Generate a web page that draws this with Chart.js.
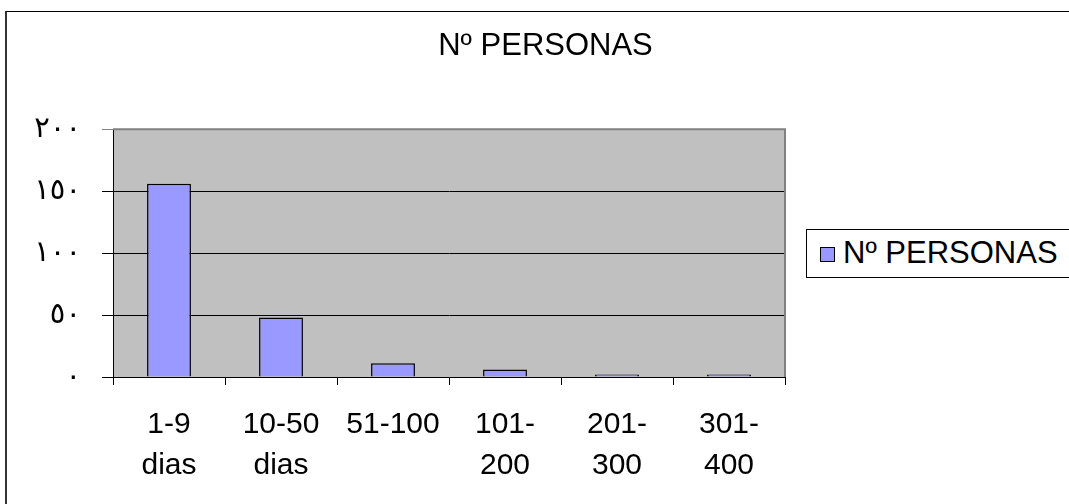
<!DOCTYPE html>
<html lang="es">
<head>
  <meta charset="UTF-8" />
  <title>Nº PERSONAS</title>
  <script src="https://cdn.jsdelivr.net/npm/chart.js"></script>
  <style>
    html, body {
      margin: 0;
      padding: 0;
      background: #fff;
      overflow: hidden;
      font-family: "Liberation Sans", Arial, sans-serif;
    }
    #wrap {
      position: relative;
      width: 1069px;
      height: 504px;
    }
    #frame {
      position: absolute;
      left: 5px;
      top: 11px;
      width: 2000px;
      height: 1000px;
      border-left: 2px solid #333;
      border-top: 1px solid #000;
      pointer-events: none;
    }
    #legend {
      position: absolute;
      left: 806px;
      top: 229px;
      width: 400px;
      height: 47px;
      border: 1px solid #000;
      background: #fff;
      font-size: 31px;
      color: #000;
    }
    #legend .box {
      position: absolute;
      left: 13px;
      top: 17px;
      width: 13px;
      height: 13px;
      border: 1px solid #000;
    }
    #legend .txt {
      position: absolute;
      left: 36px;
      top: 5px;
      line-height: 36px;
    }
  </style>
</head>
<body>
  <div id="wrap">
    <canvas id="chart" width="1069" height="504"></canvas>
    <div id="frame"></div>
    <div id="legend"><span class="box" id="legendBox"></span><span class="txt" id="legendText"></span></div>
  </div>

  <script>
    // datos
    const categorias = [['1-9', 'dias'], ['10-50', 'dias'], ['51-100'], ['101-', '200'], ['201-', '300'], ['301-', '400']];
    const personas = [156, 48, 11, 6, 2, 2];
    const yTickLabels = ['٠', '٥٠', '١٠٠', '١٥٠', '٢٠٠'];
    const serieNombre = 'Nº PERSONAS';

    const barColor = '#9999FF';

    // fondo gris del area de trazado y borde gris arriba/derecha
    const plotArea = {
      id: 'plotArea',
      beforeDraw(chart) {
        const { ctx, chartArea: a } = chart;
        ctx.save();
        ctx.fillStyle = '#C0C0C0';
        ctx.fillRect(a.left, a.top, a.right - a.left, a.bottom - a.top);
        ctx.restore();
      },
      afterDatasetsDraw(chart) {
        const { ctx, chartArea: a } = chart;
        ctx.save();
        ctx.strokeStyle = '#808080';
        ctx.lineWidth = 2;
        ctx.beginPath();
        ctx.moveTo(a.left, a.top);
        ctx.lineTo(a.right, a.top);
        ctx.lineTo(a.right, a.bottom);
        ctx.stroke();
        ctx.restore();
      }
    };

    const chart = new Chart(document.getElementById('chart'), {
      type: 'bar',
      data: {
        labels: categorias,
        datasets: [{
          label: serieNombre,
          data: personas,
          backgroundColor: barColor,
          borderColor: '#000',
          borderWidth: 1.5,
          barPercentage: 0.8,
          categoryPercentage: 0.49
        }]
      },
      plugins: [plotArea],
      options: {
        responsive: false,
        animation: false,
        layout: { padding: { left: 22, right: 0, top: 0, bottom: 0 } },
        plugins: {
          legend: { display: false },
          tooltip: { enabled: false },
          title: {
            display: true,
            text: serieNombre,
            color: '#000',
            font: { family: 'Liberation Sans', size: 31, weight: 'normal' },
            padding: { top: 28, bottom: 64 }
          }
        },
        scales: {
          x: {
            grid: {
              drawOnChartArea: false,
              drawTicks: true,
              tickLength: 8,
              color: '#000'
            },
            border: { display: true, color: '#000', width: 1 },
            ticks: {
              color: '#000',
              maxRotation: 0,
              autoSkip: false,
              padding: 19,
              font: { family: 'Liberation Sans', size: 30, lineHeight: 1.37 }
            },
            afterFit(scale) { scale.height = 127; }
          },
          y: {
            min: 0,
            max: 200,
            grid: {
              color: ctx => (ctx.tick && ctx.tick.value === 200 ? '#808080' : '#000'),
              drawTicks: true,
              tickLength: 11
            },
            border: { display: true, color: '#000', width: 1 },
            ticks: {
              stepSize: 50,
              color: '#000',
              padding: 21,
              font: { family: 'DejaVu Sans', size: 29 },
              callback: v => yTickLabels[v / 50]
            },
            afterFit(scale) { scale.width = 91; }
          },
          // eje vacio a la derecha: deja sitio para la leyenda
          y2: {
            position: 'right',
            display: true,
            grid: { display: false, drawOnChartArea: false },
            border: { display: false },
            ticks: { display: false },
            afterFit(scale) { scale.width = 284; }
          }
        }
      }
    });

    document.getElementById('legendBox').style.background = barColor;
    document.getElementById('legendText').textContent = serieNombre;
  </script>
</body>
</html>
